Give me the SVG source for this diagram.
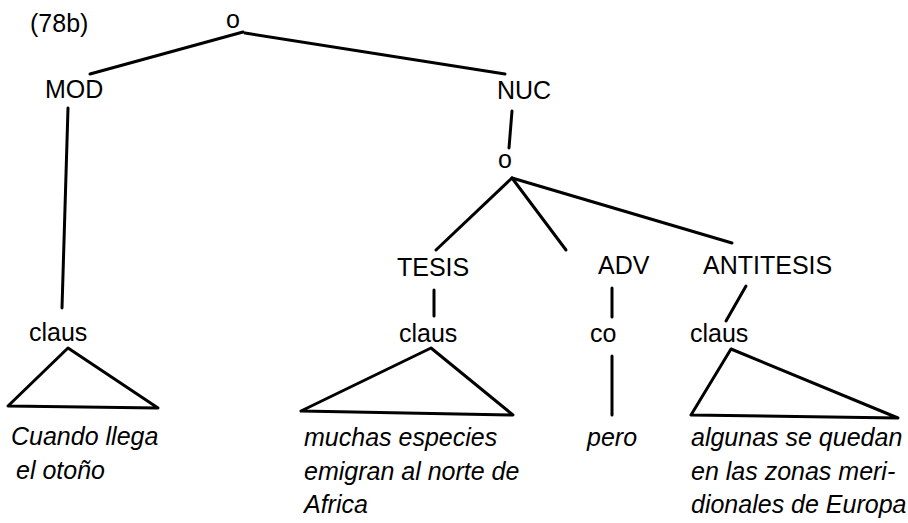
<svg xmlns="http://www.w3.org/2000/svg" width="908" height="523" viewBox="0 0 908 523">
<style>
text{font-family:"Liberation Sans",Arial,sans-serif;font-size:25px;fill:#000}
.it{font-style:italic}
.e{stroke:#000;stroke-width:3;fill:none;stroke-linecap:round;stroke-linejoin:round}
</style>
<rect width="908" height="523" fill="#fff"/>
<text x="30" y="32">(78b)</text>
<g id="connectors" class="e">
<path d="M243,32 L90,74"/>
<path d="M245,33 L505,74"/>
<path d="M68,108 L62,308"/>
<path d="M512,111 L509,148"/>
<path d="M512,178 L436,250"/>
<path d="M512,178 L566,250"/>
<path d="M512,178 L732,243"/>
<path d="M434,290 L434,316"/>
<path d="M612,288 L612,317"/>
<path d="M612,356 L612,415"/>
<path d="M746,286 L726,321"/>
</g>
<g id="root"><text x="226" y="28">o</text></g>
<g id="mod"><text x="45" y="98">MOD</text></g>
<g id="nuc"><text x="497" y="99">NUC</text></g>
<g id="nuc-o"><text x="498" y="168">o</text></g>
<g id="tesis"><text x="397" y="276">TESIS</text></g>
<g id="adv"><text x="598" y="274">ADV</text></g>
<g id="antitesis"><text x="703" y="274">ANTITESIS</text></g>
<g id="claus1">
<text x="29" y="341">claus</text>
<path class="e" d="M68,348 L8,406 L158,408 Z"/>
<text class="it" x="11" y="445">Cuando llega</text>
<text class="it" x="16" y="479">el otoño</text>
</g>
<g id="claus2">
<text x="399" y="342">claus</text>
<path class="e" d="M431,348 L301,411 L513,415 Z"/>
<text class="it" x="304" y="446">muchas especies</text>
<text class="it" x="304" y="480">emigran al norte de</text>
<text class="it" x="304" y="513">Africa</text>
</g>
<g id="co">
<text x="590" y="342">co</text>
<text class="it" x="587" y="446">pero</text>
</g>
<g id="claus3">
<text x="690" y="342">claus</text>
<path class="e" d="M731,349 L691,415 L898,418 Z"/>
<text class="it" x="691" y="446">algunas se quedan</text>
<text class="it" x="691" y="480">en las zonas meri-</text>
<text class="it" x="691" y="513">dionales de Europa</text>
</g>
</svg>
